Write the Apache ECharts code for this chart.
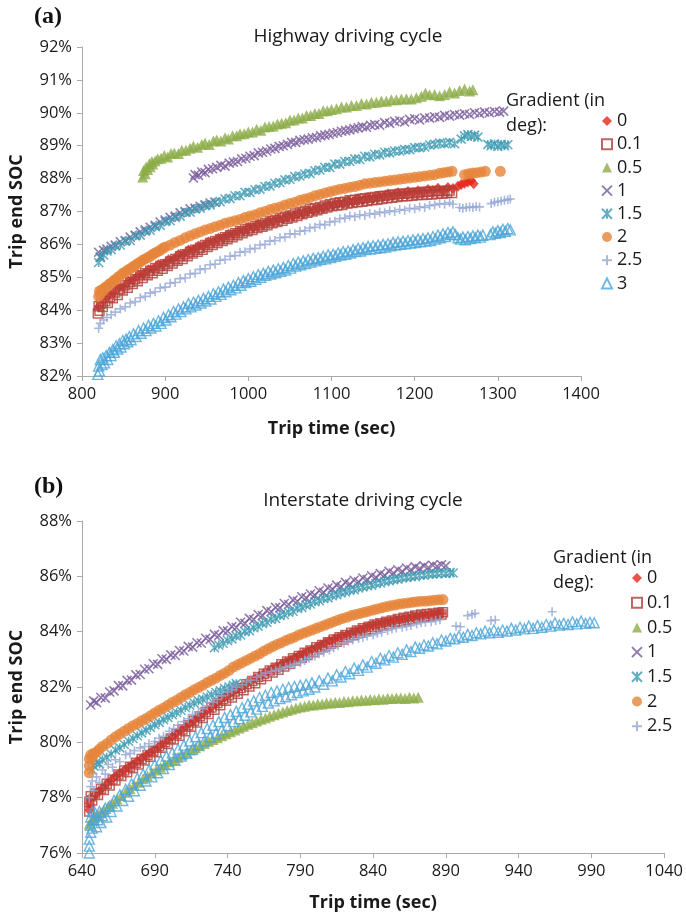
<!DOCTYPE html>
<html>
<head>
<meta charset="utf-8">
<script src="https://cdn.jsdelivr.net/npm/echarts@6/dist/echarts.min.js"></script>
<style>
html,body{margin:0;padding:0;background:#fff}
#chart{width:686px;height:916px}
</style>
</head>
<body>
<div id="chart"></div>
<script>
// ---- Tick values ----
const highwayTimeTicks = [800, 900, 1000, 1100, 1200, 1300, 1400];
const highwaySocTicks = [82, 83, 84, 85, 86, 87, 88, 89, 90, 91, 92];
const interstateTimeTicks = [640, 690, 740, 790, 840, 890, 940, 990, 1040];
const interstateSocTicks = [76, 78, 80, 82, 84, 86, 88];

// ---- Gradient categories (deg) ----
const gradients = ['0', '0.1', '0.5', '1', '1.5', '2', '2.5', '3'];
const interstateLegend = ['0', '0.1', '0.5', '1', '1.5', '2', '2.5'];

// ---- (a) Highway driving cycle: [trip time (s), trip end SOC (%)] ----
const hwGrad0 = [[820,84.1],[826,84.28],[832,84.45],[838,84.52],[844,84.68],[850,84.72],[856,84.88],[862,84.93],[868,85.07],[874,85.1],[880,85.23],[886,85.26],[892,85.39],[898,85.4],[904,85.53],[910,85.56],[916,85.69],[922,85.7],[928,85.83],[934,85.84],[940,85.95],[946,85.96],[952,86.07],[958,86.08],[964,86.19],[970,86.2],[976,86.31],[982,86.32],[988,86.41],[994,86.42],[1000,86.51],[1006,86.52],[1012,86.61],[1018,86.6],[1024,86.71],[1030,86.7],[1036,86.79],[1042,86.78],[1048,86.87],[1054,86.86],[1060,86.95],[1066,86.94],[1072,87.03],[1078,87.02],[1084,87.11],[1090,87.1],[1096,87.19],[1102,87.18],[1108,87.25],[1114,87.24],[1120,87.33],[1126,87.3],[1132,87.39],[1138,87.36],[1144,87.43],[1150,87.4],[1156,87.47],[1162,87.46],[1168,87.53],[1174,87.5],[1180,87.57],[1186,87.54],[1192,87.61],[1198,87.58],[1204,87.63],[1210,87.6],[1216,87.67],[1222,87.64],[1228,87.71],[1234,87.64],[1240,87.73],[1246,87.7],[1252,87.77],[1256,87.82],[1260,87.86],[1264,87.9],[1268,87.94],[1271,87.84]];
const hwGrad01 = [[819,83.9],[820,84.12],[821,83.98],[823,84.2],[825,84.1],[828,84.28],[831,84.22],[834,84.4],[837,84.36],[840,84.54],[843,84.46],[846,84.64],[849,84.6],[852,84.76],[855,84.68],[858,84.86],[861,84.8],[864,84.94],[867,84.88],[870,85.06],[873,84.98],[876,85.12],[879,85.06],[882,85.2],[885,85.12],[888,85.28],[891,85.2],[894,85.34],[897,85.26],[900,85.4],[903,85.34],[906,85.48],[909,85.42],[912,85.56],[915,85.5],[918,85.64],[921,85.56],[924,85.7],[927,85.64],[930,85.78],[933,85.72],[936,85.84],[939,85.78],[942,85.9],[945,85.84],[948,85.98],[951,85.92],[954,86.04],[957,85.98],[960,86.1],[963,86.04],[966,86.16],[969,86.1],[972,86.22],[975,86.16],[978,86.28],[981,86.22],[984,86.34],[987,86.28],[990,86.4],[993,86.34],[996,86.46],[999,86.4],[1002,86.5],[1005,86.44],[1008,86.56],[1011,86.5],[1014,86.6],[1017,86.54],[1020,86.64],[1023,86.58],[1026,86.7],[1029,86.64],[1032,86.74],[1035,86.68],[1038,86.8],[1041,86.72],[1044,86.84],[1047,86.78],[1050,86.88],[1053,86.82],[1056,86.94],[1059,86.86],[1062,86.98],[1065,86.92],[1068,87.02],[1071,86.96],[1074,87.08],[1077,87.0],[1080,87.1],[1083,87.04],[1086,87.14],[1089,87.08],[1092,87.18],[1095,87.12],[1098,87.22],[1101,87.16],[1104,87.26],[1107,87.18],[1110,87.28],[1113,87.2],[1116,87.3],[1119,87.24],[1122,87.34],[1125,87.26],[1128,87.36],[1131,87.28],[1134,87.38],[1137,87.3],[1140,87.4],[1143,87.32],[1146,87.42],[1149,87.34],[1152,87.44],[1155,87.36],[1158,87.46],[1161,87.38],[1164,87.48],[1167,87.4],[1170,87.5],[1173,87.42],[1176,87.52],[1179,87.44],[1182,87.54],[1185,87.46],[1188,87.54],[1191,87.46],[1194,87.56],[1197,87.48],[1200,87.56],[1203,87.5],[1206,87.58],[1209,87.5],[1212,87.6],[1215,87.52],[1218,87.6],[1221,87.52],[1224,87.62],[1227,87.54],[1230,87.62],[1233,87.54],[1236,87.62],[1239,87.56],[1242,87.64],[1245,87.56]];
const hwGrad05 = [[873,88.05],[874,88.25],[876,88.15],[877,88.35],[879,88.28],[881,88.45],[882,88.36],[884,88.52],[885,88.44],[888,88.54],[891,88.6],[895,88.62],[899,88.7],[903,88.66],[907,88.76],[911,88.78],[916,88.76],[920,88.86],[925,88.86],[930,88.92],[934,88.98],[939,88.95],[944,89.04],[948,89.08],[953,89.04],[958,89.14],[962,89.17],[967,89.14],[972,89.24],[976,89.2],[981,89.3],[986,89.3],[990,89.36],[995,89.36],[1000,89.42],[1005,89.42],[1010,89.5],[1015,89.47],[1020,89.57],[1025,89.58],[1030,89.6],[1035,89.66],[1040,89.68],[1045,89.7],[1050,89.78],[1055,89.78],[1060,89.84],[1065,89.84],[1070,89.92],[1075,89.92],[1080,89.98],[1085,89.98],[1090,90.06],[1095,90.06],[1100,90.1],[1106,90.12],[1112,90.18],[1118,90.18],[1124,90.22],[1130,90.22],[1136,90.28],[1142,90.27],[1148,90.32],[1154,90.32],[1160,90.36],[1166,90.35],[1172,90.4],[1178,90.4],[1184,90.42],[1190,90.43],[1196,90.42],[1202,90.46],[1208,90.5],[1213,90.6],[1218,90.55],[1224,90.56],[1230,90.52],[1236,90.56],[1242,90.64],[1248,90.6],[1254,90.68],[1260,90.72],[1266,90.66],[1270,90.7]];
const hwGrad1 = [[820,85.76],[822,85.62],[826,85.82],[830,85.86],[835,85.94],[840,85.98],[846,86.08],[852,86.12],[858,86.22],[864,86.28],[870,86.38],[876,86.44],[882,86.52],[888,86.58],[894,86.68],[900,86.74],[906,86.82],[912,86.86],[918,86.96],[924,87.0],[930,87.08],[936,87.1],[942,87.16],[948,87.2],[954,87.26],[960,87.28],
  [934,88.02],[936,88.12],[940,88.1],[944,88.2],[948,88.18],[952,88.28],[957,88.3],[962,88.34],[967,88.4],[972,88.38],[977,88.47],[982,88.5],[987,88.52],[992,88.6],[997,88.62],[1002,88.68],[1007,88.7],[1012,88.78],[1017,88.8],[1022,88.84],[1027,88.9],[1032,88.92],[1037,88.98],[1042,89.0],[1047,89.04],[1052,89.1],[1057,89.1],[1062,89.16],[1067,89.18],[1072,89.2],[1077,89.24],[1082,89.25],[1087,89.3],[1092,89.32],[1097,89.34],[1102,89.38],[1107,89.4],[1112,89.44],[1117,89.46],[1122,89.48],[1127,89.52],[1132,89.54],[1137,89.58],[1142,89.56],[1147,89.62],[1152,89.64],[1158,89.62],[1164,89.7],[1170,89.68],[1176,89.74],[1182,89.76],[1188,89.72],[1194,89.8],[1200,89.82],[1206,89.78],[1212,89.85],[1218,89.84],[1224,89.88],[1230,89.86],[1236,89.92],[1242,89.9],[1248,89.95],[1254,89.93],[1260,89.97],[1266,89.95],[1272,90.0],[1278,89.98],[1284,90.02],[1290,90.0],[1296,90.04],[1302,90.02],[1307,90.05]];
const hwGrad15 = [[820,85.45],[822,85.6],[826,85.68],[830,85.8],[835,85.84],[840,85.95],[846,85.98],[852,86.1],[858,86.12],[864,86.26],[870,86.28],[876,86.4],[882,86.43],[888,86.54],[894,86.58],[900,86.7],[906,86.72],[912,86.82],[918,86.86],[924,86.97],[930,86.98],[936,87.08],[942,87.1],[948,87.18],[954,87.2],[960,87.28],[966,87.3],[972,87.38],[978,87.4],[984,87.48],[990,87.48],[996,87.58],[1002,87.58],[1008,87.66],[1014,87.68],[1020,87.76],[1026,87.78],[1032,87.86],[1038,87.88],[1044,87.96],[1050,87.98],[1056,88.06],[1062,88.08],[1068,88.14],[1074,88.16],[1080,88.24],[1086,88.26],[1092,88.34],[1098,88.34],[1104,88.44],[1110,88.44],[1116,88.52],[1122,88.52],[1128,88.6],[1134,88.58],[1140,88.68],[1146,88.66],[1152,88.74],[1158,88.72],[1164,88.8],[1170,88.78],[1176,88.84],[1182,88.84],[1188,88.88],[1194,88.88],[1200,88.94],[1206,88.94],[1212,88.96],[1218,89.02],[1224,89.04],[1230,89.08],[1236,89.06],[1242,89.1],[1248,89.06],[1256,89.2],[1260,89.3],[1264,89.34],[1268,89.28],[1272,89.32],[1276,89.26],[1288,89.04],[1292,89.0],[1296,89.05],[1300,88.98],[1304,89.04],[1308,89.0],[1312,89.03]];
const hwGrad2 = [[820,84.42],[821,84.58],[822,84.5],[824,84.62],[826,84.6],[828,84.7],[830,84.72],[833,84.8],[835,84.82],[838,84.9],[840,84.92],[843,85.0],[846,85.05],[849,85.12],[852,85.16],[855,85.22],[858,85.26],[861,85.32],[864,85.36],[867,85.42],[870,85.46],[873,85.52],[876,85.56],[879,85.6],[882,85.64],[885,85.7],[888,85.74],[891,85.78],[894,85.82],[897,85.88],[900,85.92],[906,85.98],[912,86.06],[918,86.12],[924,86.2],[930,86.26],[936,86.32],[942,86.38],[948,86.44],[954,86.48],[960,86.54],[966,86.58],[972,86.64],[978,86.68],[984,86.72],[990,86.76],[996,86.82],[1002,86.86],[1008,86.9],[1014,86.96],[1020,87.0],[1026,87.06],[1032,87.1],[1038,87.14],[1044,87.2],[1050,87.24],[1056,87.28],[1062,87.34],[1068,87.38],[1074,87.42],[1080,87.48],[1086,87.52],[1092,87.56],[1098,87.6],[1104,87.64],[1110,87.68],[1116,87.7],[1122,87.74],[1128,87.76],[1134,87.8],[1140,87.84],[1146,87.86],[1152,87.88],[1158,87.9],[1164,87.92],[1170,87.94],[1176,87.96],[1182,87.98],[1188,88.0],[1194,88.02],[1200,88.04],[1206,88.06],[1212,88.08],[1218,88.1],[1224,88.12],[1230,88.16],[1235,88.18],[1240,88.2],[1245,88.22],[1260,88.12],[1265,88.15],[1270,88.17],[1275,88.18],[1280,88.2],[1285,88.22],[1303,88.22]];
const hwGrad25 = [[820,83.45],[822,83.6],[826,83.7],[830,83.78],[835,83.86],[840,83.94],[846,84.04],[852,84.1],[858,84.22],[864,84.26],[870,84.38],[876,84.42],[882,84.52],[888,84.56],[894,84.68],[900,84.7],[906,84.82],[912,84.84],[918,84.96],[924,84.98],[930,85.1],[936,85.12],[942,85.24],[948,85.26],[954,85.38],[960,85.4],[966,85.52],[972,85.54],[978,85.64],[984,85.66],[990,85.76],[996,85.78],[1002,85.86],[1008,85.88],[1014,85.98],[1020,86.0],[1026,86.1],[1032,86.12],[1038,86.2],[1044,86.22],[1050,86.32],[1056,86.32],[1062,86.4],[1068,86.42],[1074,86.5],[1080,86.52],[1086,86.6],[1092,86.6],[1098,86.68],[1104,86.7],[1110,86.78],[1116,86.8],[1122,86.86],[1128,86.84],[1134,86.9],[1140,86.88],[1146,86.94],[1152,86.92],[1158,86.98],[1164,86.96],[1170,87.02],[1176,87.0],[1182,87.06],[1188,87.04],[1194,87.1],[1200,87.08],[1206,87.14],[1212,87.12],[1218,87.18],[1224,87.2],[1230,87.24],[1236,87.22],[1242,87.27],[1246,87.22],[1254,87.12],[1258,87.1],[1262,87.12],[1266,87.14],[1270,87.12],[1274,87.15],[1278,87.14],[1292,87.24],[1296,87.28],[1300,87.3],[1304,87.32],[1308,87.34],[1312,87.36],[1315,87.38]];
const hwGrad3 = [[819,82.05],[820,82.3],[821,82.15],[822,82.5],[824,82.35],[825,82.55],[827,82.4],[829,82.62],[831,82.5],[833,82.72],[835,82.62],[837,82.8],[839,82.72],[841,82.92],[843,82.82],[845,82.98],[847,82.88],[849,83.08],[851,82.98],[853,83.12],[855,83.04],[857,83.2],[859,83.1],[862,83.28],[865,83.2],[868,83.38],[871,83.3],[874,83.46],[877,83.38],[880,83.54],[883,83.46],[886,83.6],[889,83.52],[892,83.68],[895,83.6],[898,83.78],[901,83.7],[904,83.86],[907,83.8],[910,83.96],[913,83.88],[916,84.04],[919,83.96],[922,84.1],[925,84.04],[928,84.2],[931,84.1],[934,84.24],[937,84.16],[940,84.3],[943,84.22],[946,84.36],[949,84.28],[952,84.42],[955,84.34],[958,84.5],[961,84.42],[964,84.56],[967,84.48],[970,84.64],[973,84.56],[976,84.7],[979,84.62],[982,84.76],[985,84.68],[988,84.84],[991,84.76],[994,84.9],[997,84.84],[1000,84.96],[1003,84.88],[1006,85.02],[1009,84.94],[1012,85.08],[1015,85.0],[1018,85.12],[1021,85.06],[1024,85.18],[1027,85.1],[1030,85.22],[1033,85.14],[1036,85.26],[1039,85.18],[1042,85.3],[1045,85.22],[1048,85.36],[1051,85.28],[1054,85.42],[1057,85.34],[1060,85.46],[1063,85.38],[1066,85.5],[1069,85.42],[1072,85.54],[1075,85.46],[1078,85.58],[1081,85.5],[1084,85.6],[1087,85.54],[1090,85.64],[1093,85.56],[1096,85.68],[1099,85.6],[1102,85.7],[1105,85.64],[1108,85.74],[1111,85.68],[1114,85.78],[1117,85.7],[1120,85.8],[1123,85.74],[1126,85.84],[1129,85.78],[1132,85.88],[1135,85.8],[1138,85.9],[1141,85.84],[1144,85.94],[1147,85.86],[1150,85.96],[1153,85.88],[1156,85.98],[1159,85.9],[1162,86.0],[1165,85.92],[1168,86.02],[1171,85.96],[1174,86.06],[1177,85.98],[1180,86.08],[1183,86.0],[1186,86.1],[1189,86.02],[1192,86.12],[1195,86.04],[1198,86.14],[1201,86.06],[1204,86.16],[1207,86.08],[1210,86.18],[1213,86.1],[1216,86.2],[1219,86.12],[1222,86.24],[1225,86.16],[1228,86.28],[1231,86.2],[1234,86.32],[1237,86.24],[1240,86.36],[1243,86.3],[1246,86.38],[1249,86.3],[1252,86.2],[1255,86.16],[1258,86.22],[1261,86.14],[1264,86.24],[1267,86.18],[1270,86.26],[1273,86.2],[1276,86.28],[1279,86.22],[1282,86.28],[1291,86.3],[1294,86.38],[1297,86.34],[1300,86.42],[1303,86.36],[1306,86.46],[1309,86.4],[1312,86.48],[1315,86.44]];

// ---- (b) Interstate driving cycle: [trip time (s), trip end SOC (%)] ----
const isGrad0 = [[645,77.55],[645,77.8],[646,78.0],[648,78.05],[650,78.15],[652,78.25],[654,78.35],[657,78.5],[660,78.63],[663,78.77],[666,78.88],[669,78.98],[672,79.1],[675,79.2],[678,79.32],[681,79.42],[684,79.52],[687,79.63],[690,79.73],[693,79.85],[696,79.97],[699,80.09],[702,80.2],[705,80.32],[708,80.44],[711,80.56],[714,80.68],[717,80.8],[720,80.92],[723,81.04],[726,81.16],[729,81.27],[732,81.39],[735,81.51],[738,81.63],[741,81.74],[744,81.84],[747,81.94],[750,82.03],[753,82.12],[756,82.22],[759,82.31],[762,82.4],[765,82.5],[768,82.58],[771,82.66],[774,82.74],[777,82.82],[780,82.9],[783,82.98],[786,83.06],[789,83.14],[792,83.21],[795,83.29],[798,83.36],[801,83.44],[804,83.52],[807,83.6],[810,83.67],[813,83.73],[816,83.79],[819,83.85],[822,83.9],[825,83.96],[828,84.02],[831,84.08],[834,84.14],[837,84.2],[840,84.25],[843,84.28],[846,84.32],[849,84.35],[852,84.38],[855,84.42],[858,84.45],[861,84.48],[864,84.51],[867,84.54],[870,84.56],[873,84.58],[876,84.6],[879,84.62],[882,84.64],[885,84.66],[887,84.67]];
const isGrad01 = [[645,77.5],[645,77.85],[646,78.05],[647,77.9],[649,78.15],[651,78.1],[653,78.32],[655,78.28],[657,78.5],[659,78.44],[661,78.66],[663,78.62],[665,78.84],[667,78.78],[669,78.98],[671,78.92],[673,79.12],[675,79.06],[677,79.26],[679,79.2],[681,79.4],[683,79.34],[685,79.54],[687,79.48],[689,79.7],[691,79.64],[693,79.86],[695,79.8],[697,80.0],[699,79.94],[701,80.14],[703,80.1],[705,80.3],[707,80.24],[709,80.46],[711,80.4],[713,80.62],[715,80.56],[717,80.78],[719,80.72],[721,80.94],[723,80.88],[725,81.1],[727,81.02],[729,81.26],[731,81.18],[733,81.42],[735,81.34],[737,81.56],[739,81.5],[741,81.7],[743,81.62],[745,81.84],[747,81.76],[749,81.96],[751,81.88],[753,82.1],[755,82.02],[757,82.22],[759,82.14],[761,82.36],[763,82.28],[765,82.48],[767,82.4],[769,82.6],[771,82.52],[773,82.7],[775,82.62],[777,82.82],[779,82.74],[781,82.92],[783,82.84],[785,83.04],[787,82.96],[789,83.12],[791,83.06],[793,83.24],[795,83.16],[797,83.32],[799,83.26],[801,83.44],[803,83.36],[805,83.52],[807,83.46],[809,83.62],[811,83.56],[813,83.72],[815,83.64],[817,83.8],[819,83.72],[821,83.88],[823,83.8],[825,83.96],[827,83.88],[829,84.04],[831,83.96],[833,84.12],[835,84.04],[837,84.18],[839,84.1],[841,84.26],[843,84.18],[845,84.3],[847,84.22],[849,84.36],[851,84.28],[853,84.4],[855,84.34],[857,84.46],[859,84.38],[861,84.5],[863,84.42],[865,84.54],[867,84.46],[869,84.58],[871,84.5],[873,84.62],[875,84.54],[877,84.64],[879,84.56],[881,84.66],[883,84.6],[885,84.68],[887,84.62],[888,84.7]];
const isGrad05 = [[645,77.05],[647,77.2],[649,77.3],[651,77.38],[653,77.46],[655,77.55],[658,77.68],[661,77.8],[664,77.95],[667,78.08],[670,78.2],[673,78.32],[676,78.45],[679,78.56],[682,78.68],[685,78.78],[688,78.9],[691,79.0],[694,79.1],[697,79.2],[700,79.3],[703,79.38],[706,79.46],[709,79.55],[712,79.63],[715,79.72],[718,79.8],[721,79.88],[724,79.96],[727,80.04],[730,80.1],[733,80.17],[736,80.24],[739,80.31],[742,80.38],[745,80.45],[748,80.52],[751,80.58],[754,80.65],[757,80.71],[760,80.77],[763,80.83],[766,80.88],[769,80.94],[772,81.0],[775,81.05],[778,81.1],[781,81.15],[784,81.2],[787,81.24],[790,81.28],[793,81.3],[796,81.35],[799,81.35],[802,81.39],[805,81.39],[808,81.42],[811,81.42],[814,81.45],[817,81.44],[820,81.48],[823,81.47],[826,81.5],[829,81.5],[832,81.53],[835,81.52],[838,81.55],[841,81.54],[844,81.57],[847,81.56],[850,81.59],[853,81.58],[856,81.6],[859,81.6],[862,81.58],[865,81.63],[868,81.6],[871,81.63]];
const isGrad1 = [[646,81.35],[648,81.5],[650,81.44],[653,81.62],[656,81.6],[659,81.82],[662,81.86],[665,82.05],[668,82.04],[671,82.24],[674,82.25],[677,82.44],[680,82.45],[683,82.64],[686,82.66],[689,82.84],[692,82.82],[695,83.02],[698,83.0],[701,83.16],[704,83.14],[707,83.32],[710,83.3],[713,83.47],[716,83.44],[719,83.6],[722,83.58],[725,83.76],[728,83.72],[731,83.9],[734,83.86],[737,84.04],[740,84.02],[743,84.18],[746,84.15],[749,84.34],[752,84.3],[755,84.48],[758,84.44],[761,84.62],[764,84.58],[767,84.76],[770,84.72],[773,84.88],[776,84.86],[779,85.02],[782,84.98],[785,85.14],[788,85.1],[791,85.26],[794,85.22],[797,85.36],[800,85.32],[803,85.48],[806,85.42],[809,85.58],[812,85.54],[815,85.68],[818,85.62],[821,85.78],[824,85.72],[827,85.86],[830,85.8],[833,85.94],[836,85.88],[839,86.02],[842,85.96],[845,86.1],[848,86.04],[851,86.18],[854,86.12],[857,86.24],[860,86.18],[863,86.3],[866,86.24],[869,86.34],[872,86.28],[875,86.38],[878,86.32],[881,86.4],[884,86.36],[887,86.42],[890,86.38]];
const isGrad15 = [[647,79.0],[648,79.15],[650,79.28],[652,79.22],[654,79.38],[657,79.46],[660,79.58],[663,79.72],[666,79.8],[669,79.92],[672,80.04],[675,80.14],[678,80.24],[681,80.34],[684,80.44],[687,80.54],[690,80.64],[693,80.72],[696,80.82],[699,80.9],[702,81.0],[705,81.08],[708,81.16],[711,81.26],[714,81.34],[717,81.42],[720,81.5],[723,81.56],[726,81.64],[729,81.72],[732,81.8],[735,81.86],[738,81.94],[741,82.0],[744,82.06],[746,82.12],
  [731,83.42],[734,83.52],[737,83.58],[740,83.68],[743,83.74],[746,83.84],[749,83.88],[752,84.0],[755,84.04],[758,84.14],[761,84.2],[764,84.3],[767,84.34],[770,84.44],[773,84.48],[776,84.58],[779,84.62],[782,84.7],[785,84.74],[788,84.84],[791,84.88],[794,84.96],[797,85.0],[800,85.08],[803,85.12],[806,85.2],[809,85.22],[812,85.3],[815,85.34],[818,85.4],[821,85.44],[824,85.5],[827,85.52],[830,85.58],[833,85.62],[836,85.66],[839,85.68],[842,85.74],[845,85.76],[848,85.82],[851,85.84],[854,85.88],[857,85.9],[860,85.94],[863,85.96],[866,85.99],[869,86.0],[872,86.04],[875,86.04],[878,86.08],[881,86.08],[884,86.1],[887,86.12],[890,86.1],[893,86.14],[895,86.12]];
const isGrad2 = [[645,78.9],[645,79.15],[645,79.4],[646,79.55],[647,79.45],[648,79.6],[650,79.65],[652,79.75],[654,79.85],[657,79.95],[660,80.08],[663,80.2],[666,80.3],[669,80.4],[672,80.5],[675,80.6],[678,80.68],[681,80.78],[684,80.86],[687,80.96],[690,81.06],[693,81.16],[696,81.24],[699,81.34],[702,81.44],[705,81.52],[708,81.62],[711,81.72],[714,81.8],[717,81.9],[720,81.98],[723,82.06],[726,82.16],[729,82.24],[732,82.32],[735,82.42],[738,82.5],[741,82.6],[744,82.72],[747,82.8],[750,82.88],[753,82.96],[756,83.04],[759,83.12],[762,83.2],[765,83.3],[768,83.38],[771,83.46],[774,83.54],[777,83.6],[780,83.68],[783,83.74],[786,83.8],[789,83.88],[792,83.94],[795,84.0],[798,84.06],[801,84.12],[804,84.18],[807,84.24],[810,84.3],[813,84.36],[816,84.42],[819,84.48],[822,84.52],[825,84.58],[828,84.62],[831,84.66],[834,84.7],[837,84.74],[840,84.78],[843,84.82],[846,84.86],[849,84.9],[852,84.94],[855,84.96],[858,85.0],[861,85.02],[864,85.04],[867,85.06],[870,85.08],[873,85.1],[876,85.1],[879,85.12],[882,85.14],[885,85.15],[888,85.16]];
const isGrad25 = [[645,78.0],[646,78.4],[647,78.6],[648,78.25],[650,78.75],[652,78.55],[654,79.0],[656,78.85],[658,79.2],[661,79.1],[663,79.37],[666,79.3],[670,79.55],[673,79.6],[676,79.7],[680,79.8],[683,79.85],[686,79.95],[690,80.03],[693,80.15],[696,80.22],[700,80.4],[703,80.5],[706,80.62],[710,80.75],[713,80.85],[716,81.0],[720,81.1],[723,81.22],[726,81.32],[730,81.45],[733,81.55],[736,81.68],[740,81.82],[743,81.9],[746,82.0],[750,82.08],[753,82.18],[756,82.25],[760,82.35],[763,82.42],[766,82.5],[770,82.56],[773,82.6],[776,82.66],[780,82.72],[783,82.76],[786,82.82],[790,82.88],[793,82.96],[796,83.04],[800,83.12],[803,83.2],[806,83.26],[810,83.34],[813,83.42],[816,83.5],[820,83.58],[823,83.65],[826,83.7],[830,83.76],[833,83.8],[836,83.84],[840,83.88],[843,83.94],[846,83.98],[850,84.04],[853,84.1],[856,84.13],[860,84.16],[863,84.2],[866,84.22],[870,84.28],[873,84.32],[876,84.34],[880,84.36],[883,84.4],[886,84.43],[897,84.2],[900,84.18],[905,84.58],[908,84.62],[910,84.66],[921,84.4],[924,84.42],[963,84.72]];
const isGrad3 = [[645,76.0],[645,76.25],[645,76.5],[646,76.75],[646,77.0],[646,77.3],[647,77.5],[647,76.9],[648,77.2],[649,77.45],[650,76.95],[651,77.2],[652,77.5],[653,77.1],[654,77.35],[656,77.62],[657,77.3],[659,77.7],[660,77.5],[662,77.9],[664,77.7],[666,78.1],[668,77.9],[670,78.3],[672,78.05],[674,78.5],[676,78.25],[678,78.7],[680,78.45],[682,78.85],[684,78.6],[686,79.0],[688,78.75],[690,79.2],[692,78.9],[694,79.35],[696,79.05],[698,79.5],[700,79.2],[702,79.62],[704,79.35],[706,79.75],[708,79.5],[710,79.9],[712,79.6],[714,80.05],[716,79.75],[718,80.2],[720,79.9],[722,80.35],[724,80.05],[726,80.5],[728,80.2],[730,80.62],[732,80.32],[734,80.75],[736,80.45],[738,80.9],[740,80.6],[742,81.0],[744,80.75],[746,81.12],[748,80.85],[750,81.25],[752,80.98],[754,81.38],[756,81.1],[758,81.5],[760,81.2],[762,81.62],[764,81.3],[766,81.7],[768,81.42],[770,81.8],[772,81.5],[774,81.85],[776,81.58],[778,81.92],[780,81.65],[782,81.98],[784,81.72],[786,82.02],[788,81.8],[790,82.06],[792,81.86],[794,82.1],[796,81.92],[798,82.15],[800,82.0],[803,82.22],[806,82.1],[809,82.32],[812,82.22],[815,82.44],[818,82.36],[821,82.56],[824,82.48],[827,82.68],[830,82.6],[833,82.8],[836,82.72],[839,82.92],[842,82.86],[845,83.04],[848,82.98],[851,83.14],[854,83.08],[857,83.24],[860,83.18],[863,83.34],[866,83.28],[869,83.44],[872,83.4],[875,83.52],[878,83.48],[881,83.6],[884,83.56],[887,83.7],[890,83.66],[893,83.76],[896,83.74],[899,83.84],[902,83.8],[905,83.9],[908,83.86],[911,83.96],[914,83.92],[917,84.02],[920,83.96],[923,84.06],[926,83.98],[929,84.06],[932,84.02],[935,84.12],[938,84.06],[941,84.16],[944,84.1],[947,84.2],[950,84.12],[953,84.22],[956,84.16],[959,84.26],[962,84.2],[965,84.32],[968,84.24],[971,84.3],[974,84.26],[977,84.36],[980,84.28],[983,84.38],[986,84.3],[989,84.34],[992,84.32]];

const highwayData = [hwGrad0, hwGrad01, hwGrad05, hwGrad1, hwGrad15, hwGrad2, hwGrad25, hwGrad3];
const interstateData = [isGrad0, isGrad01, isGrad05, isGrad1, isGrad15, isGrad2, isGrad25, isGrad3];

// ---- Marker styles per gradient ----
const X_PATH = 'path://M0,0L10,10M10,0L0,10';
const STAR_PATH = 'path://M0,0L10,10M10,0L0,10M5,0L5,10';
const PLUS_PATH = 'path://M5,0L5,10M0,5L10,5';
const markerStyles = {
  '0':   { symbol: 'diamond',  size: [10, 11], itemStyle: { color: '#e5261c' } },
  '0.1': { symbol: 'rect',     size: 9,  itemStyle: { color: 'rgba(0,0,0,0)', borderColor: '#b23f3a', borderWidth: 1.5 } },
  '0.5': { symbol: 'triangle', size: 11, itemStyle: { color: '#8cac48' } },
  '1':   { symbol: X_PATH,     size: 9,  itemStyle: { color: 'rgba(0,0,0,0)', borderColor: '#77599a', borderWidth: 1.6 } },
  '1.5': { symbol: STAR_PATH,  size: 9,  itemStyle: { color: 'rgba(0,0,0,0)', borderColor: '#3c9ab2', borderWidth: 1.6 } },
  '2':   { symbol: 'circle',   size: 11, itemStyle: { color: '#e6853a' } },
  '2.5': { symbol: PLUS_PATH,  size: 9,  itemStyle: { color: 'rgba(0,0,0,0)', borderColor: '#93a6d3', borderWidth: 1.6 } },
  '3':   { symbol: 'triangle', size: 10, itemStyle: { color: 'rgba(0,0,0,0)', borderColor: '#4ba5d8', borderWidth: 1.4 } }
};

const FONT = 'Open Sans';
const TEXT = '#1a1a1a';
const AXIS = '#a9a9a9';

function scatter(name, data, idx) {
  const m = markerStyles[name];
  return {
    type: 'scatter', name: name, data: data,
    xAxisIndex: idx, yAxisIndex: idx,
    symbol: m.symbol, symbolSize: m.size,
    itemStyle: m.itemStyle,
    emphasis: { disabled: true },
    animation: false
  };
}

function timeAxis(idx, ticks, nameGap) {
  return {
    type: 'value', gridIndex: idx,
    min: ticks[0], max: ticks[ticks.length - 1],
    axisLine: { show: true, lineStyle: { color: AXIS, width: 1 } },
    axisTick: { show: true, length: 5, customValues: ticks, lineStyle: { color: AXIS } },
    axisLabel: { customValues: ticks, color: TEXT, fontSize: 16.5, fontFamily: FONT, margin: 10,
                 formatter: v => String(v) },
    splitLine: { show: false },
    name: 'Trip time (sec)', nameLocation: 'middle', nameGap: nameGap,
    nameTextStyle: { color: TEXT, fontSize: 18, fontWeight: 'bold', fontFamily: FONT }
  };
}

function socAxis(idx, ticks) {
  return {
    type: 'value', gridIndex: idx,
    min: ticks[0], max: ticks[ticks.length - 1],
    axisLine: { show: true, lineStyle: { color: AXIS, width: 1 } },
    axisTick: { show: true, length: 5, customValues: ticks, lineStyle: { color: AXIS } },
    axisLabel: { customValues: ticks, color: TEXT, fontSize: 16.5, fontFamily: FONT, margin: 10,
                 formatter: v => v + '%' },
    splitLine: { show: false },
    name: 'Trip end SOC', nameLocation: 'middle', nameGap: 56,
    nameTextStyle: { color: TEXT, fontSize: 18, fontWeight: 'bold', fontFamily: FONT }
  };
}

const chart = echarts.init(document.getElementById('chart'), null, { renderer: 'canvas' });

const series = [];
gradients.forEach((g, i) => series.push(scatter(g, highwayData[i], 0)));
gradients.forEach((g, i) => series.push(scatter(g, interstateData[i], 1)));

const legendText = { color: TEXT, fontSize: 18, fontFamily: FONT, lineHeight: 16 };

chart.setOption({
  backgroundColor: '#ffffff',
  animation: false,
  title: [
    { text: '(a)', left: 34, top: 5, padding: 0,
      textStyle: { fontFamily: 'Liberation Serif', fontWeight: 'bold', fontSize: 24, color: '#111' } },
    { text: 'Highway driving cycle', left: 348, top: 27, padding: 0, textAlign: 'center',
      textStyle: { fontFamily: FONT, fontWeight: 'normal', fontSize: 19, color: TEXT } },
    { text: 'Gradient (in\ndeg):', left: 506, top: 88, padding: 0,
      textStyle: { fontFamily: FONT, fontWeight: 'normal', fontSize: 18, lineHeight: 25, color: TEXT } },
    { text: '(b)', left: 34, top: 475, padding: 0,
      textStyle: { fontFamily: 'Liberation Serif', fontWeight: 'bold', fontSize: 24, color: '#111' } },
    { text: 'Interstate driving cycle', left: 363, top: 491, padding: 0, textAlign: 'center',
      textStyle: { fontFamily: FONT, fontWeight: 'normal', fontSize: 19, color: TEXT } },
    { text: 'Gradient (in\ndeg):', left: 553, top: 545, padding: 0,
      textStyle: { fontFamily: FONT, fontWeight: 'normal', fontSize: 18, lineHeight: 25, color: TEXT } }
  ],
  legend: [
    { data: gradients, orient: 'vertical', left: 601, top: 112, padding: 0,
      itemWidth: 10, itemHeight: 10, itemGap: 5.2, textStyle: legendText, selectedMode: false },
    { data: interstateLegend, orient: 'vertical', left: 631, top: 569, padding: 0,
      itemWidth: 10, itemHeight: 10, itemGap: 6.7, textStyle: legendText, selectedMode: false }
  ],
  grid: [
    { left: 80, top: 47, width: 501, height: 329 },
    { left: 80, top: 521, width: 585, height: 332 }
  ],
  xAxis: [timeAxis(0, highwayTimeTicks, 44), timeAxis(1, interstateTimeTicks, 41)],
  yAxis: [socAxis(0, highwaySocTicks), socAxis(1, interstateSocTicks)],
  series: series
});
</script>
</body>
</html>
